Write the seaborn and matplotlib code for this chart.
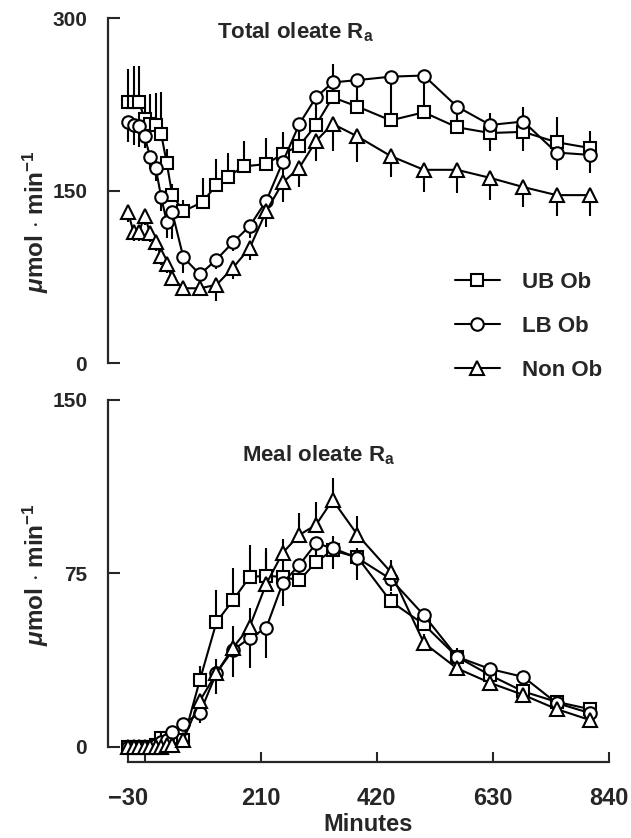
import numpy as np
import matplotlib
matplotlib.use("Agg")
import matplotlib.pyplot as plt
import seaborn as sns

# sampling times (minutes)
t_ub_top = [-30, -20, -10, 0, 10, 20, 30, 40, 50, 70, 105, 130, 150, 180, 220, 250, 280, 310, 340,
            385, 445, 505, 565, 625, 685, 745, 805]
t_grid = [-30, -20, -10, 0, 10, 20, 30, 40, 50, 70, 100, 130, 160, 190, 220, 250, 280, 310, 340,
          385, 445, 505, 565, 625, 685, 745, 805]

# Total oleate Ra
ub_total = [227, 227, 227, 212, 208, 207, 199, 174, 146, 132, 140, 155, 162, 171, 173, 182, 189, 207, 231,
            223, 211, 218, 205, 200, 201, 192, 187]
ub_total_err = [29, 31, 31, 13, 26, 28, 37, 12, 10, 10, 21, 22, 21, 22, 23, 19, 15, 15, 29,
                8, 6, 6, 8, 17, 22, 22, 15]
lb_total = [210, 207, 206, 197, 179, 170, 144, 123, 131, 92, 77, 90, 105, 119, 141, 175, 208, 231, 244,
            246, 249, 250, 223, 207, 210, 183, 181]
lb_total_err = [18, 17, 18, 10, 10, 12, 12, 14, 23, 14, 6, 8, 8, 10, 12, 12, 10, 12, 14,
                17, 35, 32, 18, 23, 26, 15, 16]
no_total = [131, 114, 114, 128, 113, 105, 93, 86, 74, 65, 65, 68, 83, 100, 132, 157, 170, 193, 208,
            197, 180, 168, 168, 161, 153, 146, 146]
no_total_err = [8, 8, 8, 8, 8, 8, 8, 8, 6, 6, 6, 14, 10, 10, 14, 17, 17, 17, 24,
                22, 18, 19, 20, 19, 17, 18, 18]

# Meal oleate Ra
ub_meal = [0, 0, 0, 0, 0, 1, 4, 4, 3, 3, 29, 54, 63.5, 73.5, 74, 73.5, 72, 80, 85,
           82, 63, 53, 39, 31, 24, 19.5, 16.4]
ub_meal_err = [0, 0, 0, 0, 0, 0, 1, 1, 1, 1, 6, 14, 14, 14, 12, 8, 6, 8, 6,
               4, 4, 4, 4, 3, 3, 2, 2]
lb_meal = [0, 0, 0, 0, 0, 1, 2, 3, 6.5, 10, 14.7, 32, 42, 47, 51.5, 71, 78.7, 88, 86,
           81.7, 72.6, 57, 39, 33.7, 30.3, 19, 14.7]
lb_meal_err = [0, 0, 0, 0, 0, 0, 1, 1, 2, 3, 4.3, 9, 11.7, 13, 13, 10, 5, 4, 9,
               9.5, 5, 7, 5, 4, 3, 3, 3]
no_meal = [0, 0, 0, 0, 0, 0, 0, 1, 1, 3, 20, 32, 43, 52, 70.5, 84, 91.7, 96, 106.8,
           91.7, 75.7, 45, 34, 27.7, 22.5, 16.4, 11.7]
no_meal_err = [0, 0, 0, 0, 0, 0, 0, 1, 1, 2, 3, 6, 9.5, 8, 14, 6, 9.5, 10, 9.5,
               8, 5, 4, 3, 3, 2, 2, 2]

x_ticks = [-30, 0, 210, 420, 630, 840]
x_labels = ["\u221230", "", "210", "420", "630", "840"]

sns.set_style("ticks")
plt.rcParams['font.family'] = ['Liberation Sans', 'DejaVu Sans']
plt.rcParams['font.weight'] = 'bold'
plt.rcParams['mathtext.fontset'] = 'custom'
plt.rcParams['mathtext.rm'] = 'Liberation Sans:bold'
plt.rcParams['mathtext.it'] = 'Liberation Sans:italic:bold'
plt.rcParams['mathtext.bf'] = 'Liberation Sans:bold'

fig = plt.figure(figsize=(6.31, 8.38), dpi=100)
ax1 = fig.add_axes([0.2029, 0.5668, 0.7623, 0.4117])
ax2 = fig.add_axes([0.2029, 0.1086, 0.7623, 0.4141])

style = dict(color='black', markerfacecolor='white', markeredgecolor='black',
             markeredgewidth=1.5, linewidth=1.5, errorbar=None, clip_on=False)


def draw(ax, t_ub, ub, ub_e, lb, lb_e, no, no_e, ub_up, lb_up, no_up):
    z = [0] * len(t_grid)
    for t, v, e, up in ((t_ub, ub, ub_e, ub_up), (t_grid, lb, lb_e, lb_up), (t_grid, no, no_e, no_up)):
        eb = ax.errorbar(t, v, yerr=[z if up else e, e if up else z],
                         fmt='none', ecolor='black', elinewidth=1.5, capsize=0, zorder=1)
        for c in eb.get_children():
            c.set_clip_on(False)
    sns.lineplot(x=t_ub, y=ub, marker='s', markersize=8.5, label='UB Ob', ax=ax, **style)
    sns.lineplot(x=t_grid, y=lb, marker='o', markersize=9, label='LB Ob', ax=ax, **style)
    sns.lineplot(x=t_grid, y=no, marker='^', markersize=9.5, label='Non Ob', ax=ax, **style)


draw(ax1, t_ub_top, ub_total, ub_total_err, lb_total, lb_total_err, no_total, no_total_err,
     True, False, False)
draw(ax2, t_grid, ub_meal, ub_meal_err, lb_meal, lb_meal_err, no_meal, no_meal_err,
     True, False, True)

ylab = r"$\mu$mol $\cdot$ min$^{-1}$"
for ax, top in ((ax1, 300), (ax2, 150)):
    ax.set_xlim(-30, 840)
    ax.set_ylim(0, top)
    ax.set_yticks([0, top / 2, top])
    ax.set_yticklabels(["0", str(int(top / 2)), str(top)])
    ax.spines['top'].set_visible(False)
    ax.spines['right'].set_visible(False)
    ax.spines['left'].set_position(('outward', 14.4))
    ax.spines['left'].set_linewidth(1.6)
    ax.spines['bottom'].set_linewidth(1.6)
    ax.tick_params(axis='y', direction='in', length=8.6, width=1.5, labelsize=15, pad=15)
    ax.set_ylabel(ylab, fontsize=17.5, fontweight='bold')
    ax.set_xlabel("")

ax1.spines['bottom'].set_visible(False)
ax1.tick_params(axis='x', bottom=False, labelbottom=False)
ax1.yaxis.set_label_coords(-0.16, 0.41)

ax2.spines['bottom'].set_position(('outward', 10.8))
ax2.set_xticks(x_ticks)
ax2.set_xticklabels(x_labels)
ax2.tick_params(axis='x', direction='in', length=7, width=1.5, labelsize=17, pad=18)
ax2.set_xlabel("Minutes", fontsize=17, fontweight='bold', labelpad=2)
ax2.yaxis.set_label_coords(-0.16, 0.496)

ax1.text(0.347, 0.96, r"Total oleate R$_{\mathrm{a}}$", transform=ax1.transAxes,
         ha='center', va='center', fontsize=16, fontweight='bold')
ax2.text(0.397, 0.84, r"Meal oleate R$_{\mathrm{a}}$", transform=ax2.transAxes,
         ha='center', va='center', fontsize=16, fontweight='bold')

ax1.legend(loc='upper left', bbox_to_anchor=(0.68, 0.265), frameon=False, fontsize=16,
           handlelength=2.0, handletextpad=1.0, labelspacing=1.05, borderpad=0, borderaxespad=0)
leg2 = ax2.get_legend()
if leg2 is not None:
    leg2.remove()

fig.savefig("out.png", dpi=100)
